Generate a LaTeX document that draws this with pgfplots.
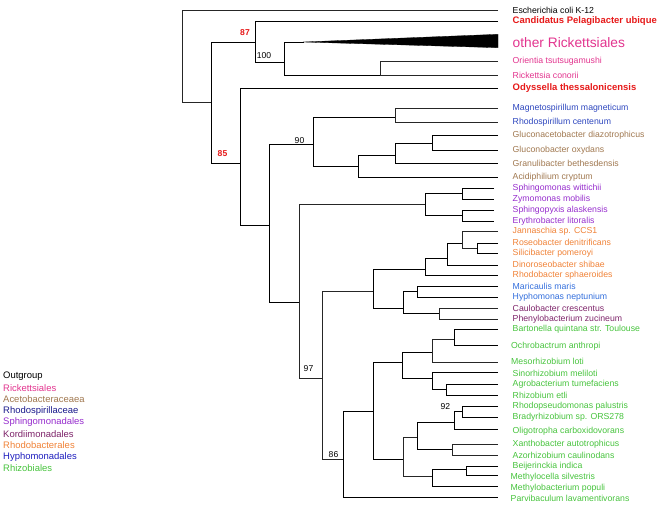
\documentclass[border=0pt]{standalone}
\usepackage{fontspec}
\setmainfont{Liberation Sans}
\usepackage{pgfplots}
\pgfplotsset{compat=1.18}
\definecolor{rick}{RGB}{226,52,142}
\definecolor{bred}{RGB}{230,25,25}
\definecolor{aceto}{RGB}{160,120,80}
\definecolor{rspL}{RGB}{25,25,140}
\definecolor{rspT}{RGB}{45,70,190}
\definecolor{sphingo}{RGB}{150,45,205}
\definecolor{kordi}{RGB}{125,35,105}
\definecolor{rhodob}{RGB}{240,130,55}
\definecolor{hyphoL}{RGB}{30,30,190}
\definecolor{hyphoT}{RGB}{50,110,220}
\definecolor{rhizo}{RGB}{70,195,60}
\newcommand{\nf}{\fontsize{8.75}{9}\selectfont}
\newcommand{\bff}{\fontsize{9.5}{10}\selectfont\bfseries}
\newcommand{\lf}{\fontsize{9.5}{10}\selectfont}
\begin{document}
\begin{tikzpicture}[leaf/.style={anchor=west, inner sep=0pt}]
\begin{axis}[width=661bp, height=506bp, scale only axis,
  xmin=0, xmax=661, ymin=0, ymax=506, y dir=reverse,
  hide axis, clip=false,
  cycle list={{black!85, solid, line width=0.7pt, no markers}}]
% brackets: child1 end, node, node, child2 end
\addplot coordinates {(498,10) (182,10) (182,102) (211,102)};
\addplot coordinates {(255,42) (211,42) (211,163) (240,163)};
\addplot coordinates {(498,21) (255,21) (255,62) (284,62)};
\addplot coordinates {(304,42) (284,42) (284,75.5) (380,75.5)};
\addplot coordinates {(498,61) (380,61) (380,75) (498,75)};
\addplot coordinates {(498,88) (240,88) (240,225) (269,225)};
\addplot coordinates {(313,144) (269,144) (269,302) (299,302)};
\addplot coordinates {(395,117) (313,117) (313,166) (358,166)};
\addplot coordinates {(498,108) (395,108) (395,122) (498,122)};
\addplot coordinates {(395,155) (358,155) (358,177) (498,177)};
\addplot coordinates {(432,143) (395,143) (395,163) (498,163)};
\addplot coordinates {(498,135.5) (432,135.5) (432,150) (498,150)};
\addplot coordinates {(425,204) (299,204) (299,378) (322,378)};
\addplot coordinates {(462,193) (425,193) (425,215) (462,215)};
\addplot coordinates {(494,188) (462,188) (462,199) (494,199)};
\addplot coordinates {(494,210) (462,210) (462,221) (494,221)};
\addplot coordinates {(373,291) (322,291) (322,459) (343,459)};
\addplot coordinates {(425,269) (373,269) (373,308) (403,308)};
\addplot coordinates {(447,258) (425,258) (425,275) (498,275)};
\addplot coordinates {(462,243) (447,243) (447,264.7) (498,264.7)};
\addplot coordinates {(498,231.3) (462,231.3) (462,248) (477,248)};
\addplot coordinates {(498,242.7) (477,242.7) (477,253.5) (498,253.5)};
\addplot coordinates {(417,291) (403,291) (403,313) (439,313)};
\addplot coordinates {(498,286) (417,286) (417,297) (498,297)};
\addplot coordinates {(498,308) (439,308) (439,319) (498,319)};
\addplot coordinates {(373,411) (343,411) (343,497.5) (498,497.5)};
\addplot coordinates {(402,362) (373,362) (373,459) (403,459)};
\addplot coordinates {(432,351.7) (402,351.7) (402,378) (432,378)};
\addplot coordinates {(454,339) (432,339) (432,361.7) (498,361.7)};
\addplot coordinates {(498,329.3) (454,329.3) (454,345) (498,345)};
\addplot coordinates {(498,372.7) (432,372.7) (432,389.3) (446,389.3)};
\addplot coordinates {(498,384.3) (446,384.3) (446,395) (498,395)};
\addplot coordinates {(417,437) (403,437) (403,476.5) (432,476.5)};
\addplot coordinates {(454,421.7) (417,421.7) (417,449) (452,449)};
\addplot coordinates {(462,411.7) (454,411.7) (454,429.3) (498,429.3)};
\addplot coordinates {(498,405.7) (462,405.7) (462,416.7) (498,416.7)};
\addplot coordinates {(498,444.3) (452,444.3) (452,455.3) (498,455.3)};
\addplot coordinates {(466,469.3) (432,469.3) (432,486) (498,486)};
\addplot coordinates {(498,466) (466,466) (466,475.7) (498,475.7)};
% collapsed clade
\addplot[fill=black, draw=black, line width=0.3pt] coordinates {(303,42) (498,34.3) (498,47.7)} -- cycle;
% support values
\node[font=\fontsize{8.6}{9}\selectfont\bfseries, text=bred] at (axis cs:245,33) {87};
\node[font=\fontsize{8.6}{9}\selectfont] at (axis cs:264,56) {100};
\node[font=\fontsize{8.6}{9}\selectfont\bfseries, text=bred] at (axis cs:222.5,154) {85};
\node[font=\fontsize{8.6}{9}\selectfont] at (axis cs:299.5,140.5) {90};
\node[font=\fontsize{8.6}{9}\selectfont] at (axis cs:308.5,368.5) {97};
\node[font=\fontsize{8.6}{9}\selectfont] at (axis cs:333.5,454.5) {86};
\node[font=\fontsize{8.6}{9}\selectfont] at (axis cs:445.3,407) {92};
% leaf labels
\node[leaf, font=\nf] at (axis cs:512.5,10) {Escherichia coli K-12};
\node[leaf, font=\bff, text=bred] at (axis cs:512.5,21) {Candidatus Pelagibacter ubique};
\node[leaf, font=\fontsize{13.8}{14}\selectfont, text=rick] at (axis cs:512.5,43) {other Rickettsiales};
\node[leaf, font=\nf, text=rick] at (axis cs:512.5,61) {Orientia tsutsugamushi};
\node[leaf, font=\nf, text=rick] at (axis cs:512.5,75) {Rickettsia conorii};
\node[leaf, font=\bff, text=bred] at (axis cs:512.5,88) {Odyssella thessalonicensis};
\node[leaf, font=\nf, text=rspT] at (axis cs:512.5,108) {Magnetospirillum magneticum};
\node[leaf, font=\nf, text=rspT] at (axis cs:512.5,122) {Rhodospirillum centenum};
\node[leaf, font=\nf, text=aceto] at (axis cs:512.5,135.5) {Gluconacetobacter diazotrophicus};
\node[leaf, font=\nf, text=aceto] at (axis cs:512.5,150) {Gluconobacter oxydans};
\node[leaf, font=\nf, text=aceto] at (axis cs:512.5,163) {Granulibacter bethesdensis};
\node[leaf, font=\nf, text=aceto] at (axis cs:512.5,177) {Acidiphilium cryptum};
\node[leaf, font=\nf, text=sphingo] at (axis cs:512.5,188) {Sphingomonas wittichii};
\node[leaf, font=\nf, text=sphingo] at (axis cs:512.5,199) {Zymomonas mobilis};
\node[leaf, font=\nf, text=sphingo] at (axis cs:512.5,210) {Sphingopyxis alaskensis};
\node[leaf, font=\nf, text=sphingo] at (axis cs:512.5,221) {Erythrobacter litoralis};
\node[leaf, font=\nf, text=rhodob] at (axis cs:512.5,231.5) {Jannaschia sp. CCS1};
\node[leaf, font=\nf, text=rhodob] at (axis cs:512.5,242.7) {Roseobacter denitrificans};
\node[leaf, font=\nf, text=rhodob] at (axis cs:512.5,253.7) {Silicibacter pomeroyi};
\node[leaf, font=\nf, text=rhodob] at (axis cs:512.5,264.7) {Dinoroseobacter shibae};
\node[leaf, font=\nf, text=rhodob] at (axis cs:512.5,275.3) {Rhodobacter sphaeroides};
\node[leaf, font=\nf, text=hyphoT] at (axis cs:512.5,286) {Maricaulis maris};
\node[leaf, font=\nf, text=hyphoT] at (axis cs:512.5,297) {Hyphomonas neptunium};
\node[leaf, font=\nf, text=kordi] at (axis cs:512.5,308) {Caulobacter crescentus};
\node[leaf, font=\nf, text=kordi] at (axis cs:512.5,319) {Phenylobacterium zucineum};
\node[leaf, font=\nf, text=rhizo] at (axis cs:512.5,329.5) {Bartonella quintana str. Toulouse};
\node[leaf, font=\nf, text=rhizo] at (axis cs:511,346) {Ochrobactrum anthropi};
\node[leaf, font=\nf, text=rhizo] at (axis cs:511,361) {Mesorhizobium loti};
\node[leaf, font=\nf, text=rhizo] at (axis cs:512.5,373.5) {Sinorhizobium meliloti};
\node[leaf, font=\nf, text=rhizo] at (axis cs:512.5,384.5) {Agrobacterium tumefaciens};
\node[leaf, font=\nf, text=rhizo] at (axis cs:512.5,395.3) {Rhizobium etli};
\node[leaf, font=\nf, text=rhizo] at (axis cs:512.5,406) {Rhodopseudomonas palustris};
\node[leaf, font=\nf, text=rhizo] at (axis cs:512.5,417) {Bradyrhizobium sp. ORS278};
\node[leaf, font=\nf, text=rhizo] at (axis cs:512.5,431.5) {Oligotropha carboxidovorans};
\node[leaf, font=\nf, text=rhizo] at (axis cs:512.5,444.5) {Xanthobacter autotrophicus};
\node[leaf, font=\nf, text=rhizo] at (axis cs:512.5,455.5) {Azorhizobium caulinodans};
\node[leaf, font=\nf, text=rhizo] at (axis cs:512.5,466.3) {Beijerinckia indica};
\node[leaf, font=\nf, text=rhizo] at (axis cs:510.5,477) {Methylocella silvestris};
\node[leaf, font=\nf, text=rhizo] at (axis cs:510.5,488) {Methylobacterium populi};
\node[leaf, font=\nf, text=rhizo] at (axis cs:510.5,498.5) {Parvibaculum lavamentivorans};
% group key
\node[leaf, font=\lf] at (axis cs:3,376.5) {Outgroup};
\node[leaf, font=\lf, text=rick] at (axis cs:3,388) {Rickettsiales};
\node[leaf, font=\lf, text=aceto] at (axis cs:3,399.5) {Acetobacteraceaea};
\node[leaf, font=\lf, text=rspL] at (axis cs:3,411) {Rhodospirillaceae};
\node[leaf, font=\lf, text=sphingo] at (axis cs:3,422.5) {Sphingomonadales};
\node[leaf, font=\lf, text=kordi] at (axis cs:3,434) {Kordiimonadales};
\node[leaf, font=\lf, text=rhodob] at (axis cs:3,445.5) {Rhodobacterales};
\node[leaf, font=\lf, text=hyphoL] at (axis cs:3,457) {Hyphomonadales};
\node[leaf, font=\lf, text=rhizo] at (axis cs:3,468.5) {Rhizobiales};
\end{axis}
\pgfresetboundingbox
\useasboundingbox (current axis.south west) rectangle (current axis.north east);
\end{tikzpicture}
\end{document}
